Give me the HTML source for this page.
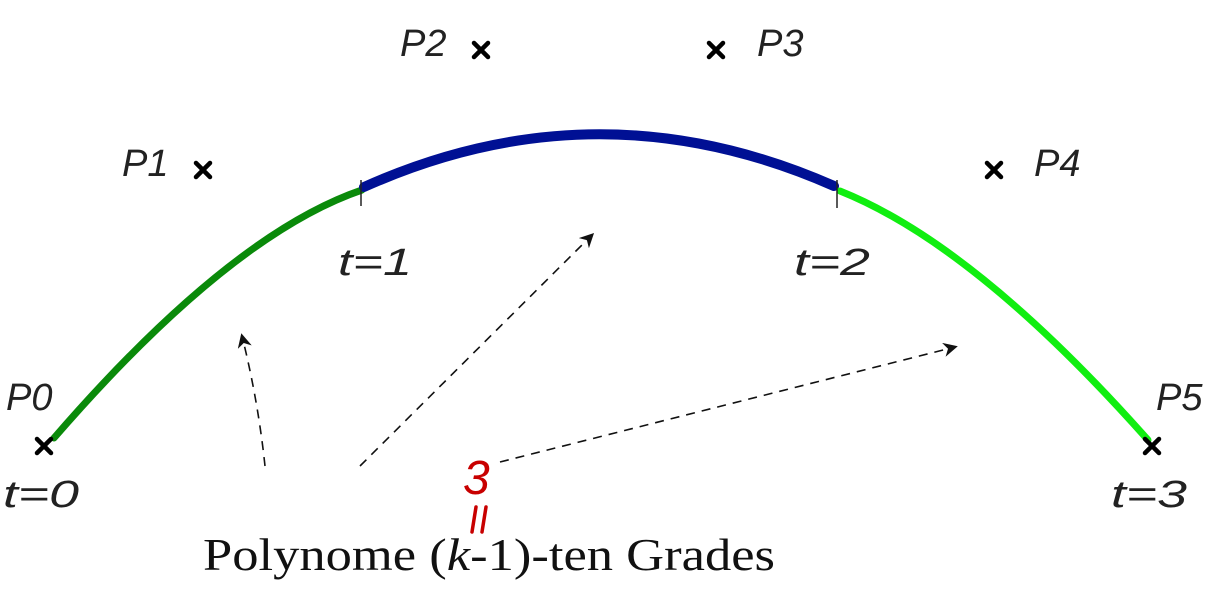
<!DOCTYPE html>
<html><head><meta charset="utf-8"><style>
html,body{margin:0;padding:0;background:#fff;width:1229px;height:594px;overflow:hidden}
.lbl{font-family:"Liberation Sans",sans-serif;font-style:italic;font-size:38px;fill:#222;font-weight:300}
</style></head><body>
<svg width="1229" height="594" viewBox="0 0 1229 594">
<defs>
<marker id="ah" viewBox="0 0 10 10" refX="8" refY="5" markerWidth="9" markerHeight="9" orient="auto"><path d="M0,0 L10,5 L0,10 L3,5 z" fill="#111"/></marker>
</defs>
<g stroke="#111" stroke-width="1.6" stroke-dasharray="9,7" fill="none" marker-end="url(#ah)">
<path d="M265,466 Q258,400 242,336"/>
<path d="M360,466 L592,235"/>
<path d="M500,462 L955,347"/>
</g>
<path d="M54,438 Q230,235 362,190" stroke="#0a8a0a" stroke-width="7" fill="none" stroke-linecap="round"/>
<path d="M364,187 Q598,82 834,186" stroke="#001094" stroke-width="10" fill="none" stroke-linecap="round"/>
<path d="M840,191 Q975,245 1148,440" stroke="#11ee11" stroke-width="7" fill="none" stroke-linecap="round"/>
<line x1="361" y1="180" x2="361" y2="206" stroke="#222" stroke-width="1.5"/>
<line x1="837" y1="180" x2="837" y2="208" stroke="#222" stroke-width="1.5"/>
<g stroke="#000" stroke-width="4.5" stroke-linecap="round">
<path d="M37,439 L51,453 M51,439 L37,453"/>
<path d="M196,163 L210,177 M210,163 L196,177"/>
<path d="M474,43 L488,57 M488,43 L474,57"/>
<path d="M709,43 L723,57 M723,43 L709,57"/>
<path d="M987,163 L1001,177 M1001,163 L987,177"/>
<path d="M1145,439 L1159,453 M1159,439 L1145,453"/>
</g>
<text class="lbl" x="6" y="410">P0</text>
<text class="lbl" x="122" y="176">P1</text>
<text class="lbl" x="400" y="56">P2</text>
<text class="lbl" x="757" y="56">P3</text>
<text class="lbl" x="1034" y="176">P4</text>
<text class="lbl" x="1156" y="410">P5</text>
<text class="lbl" x="3" y="507" textLength="76" lengthAdjust="spacingAndGlyphs">t=0</text>
<text class="lbl" x="338" y="275" textLength="74" lengthAdjust="spacingAndGlyphs">t=1</text>
<text class="lbl" x="794" y="275" textLength="76" lengthAdjust="spacingAndGlyphs">t=2</text>
<text class="lbl" x="1111" y="507" textLength="76" lengthAdjust="spacingAndGlyphs">t=3</text>
<text x="463" y="494" font-family="Liberation Sans,sans-serif" font-style="italic" font-size="48" fill="#c80000">3</text>
<path d="M476,507 L472,532 M486,507 L482,532" stroke="#c80000" stroke-width="3.5" stroke-linecap="round"/>
<text x="203" y="570" font-family="Liberation Serif,serif" font-size="46" fill="#111" textLength="572" lengthAdjust="spacingAndGlyphs">Polynome (<tspan font-style="italic">k</tspan>-1)-ten Grades</text>
</svg>
</body></html>
